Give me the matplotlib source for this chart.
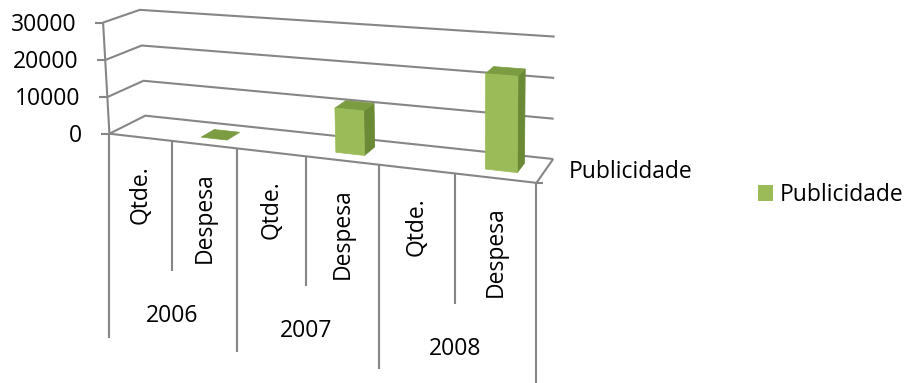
import numpy as np
import matplotlib
matplotlib.use('Agg')
import matplotlib.pyplot as plt
from matplotlib.patches import Polygon, Patch

plt.rcParams['font.family'] = ['Open Sans', 'DejaVu Sans']
plt.rcParams['font.size'] = 16.5

years = ['2006', '2007', '2008']
measures = ['Qtde.', 'Despesa']
series_name = 'Publicidade'
# one value per (year, measure); Qtde. is empty
publicidade = [np.nan, 0, np.nan, 11300, np.nan, 23000]
value_ticks = [0, 10000, 20000, 30000]

grid_color = '#868686'
front_color = '#9bbb59'
top_color = '#7c9c42'
side_color = '#6b8a35'

# chart box: (category, value / 10000, depth) and where it lands in pixels
frame_world = np.array([
    (0, 0, 0), (1, 0, 0), (2, 0, 0), (3, 0, 0), (4, 0, 0), (5, 0, 0), (6, 0, 0),
    (0, 0, 1), (6, 0, 1),
    (0, 1, 0), (0, 2, 0), (0, 3, 0),
    (0, 1, 1), (0, 2, 1), (0, 3, 1),
    (6, 1, 1), (6, 2, 1), (6, 3, 1),
], dtype=float)
frame_px = np.array([
    (110, 133), (172, 141.5), (237, 149.5), (306, 157), (378, 165), (455, 173.5), (537, 182),
    (145, 115.5), (554, 158),
    (107.5, 97), (105, 59.5), (103, 22),
    (143, 81), (142, 45.5), (140, 10),
    (553, 118.5), (554, 78.5), (555, 37),
], dtype=float)

PX_CENTER = np.array([454.0, 100.0])
PX_SCALE = 300.0


def fit_camera(world, px):
    # direct linear transform for a 3x4 perspective matrix
    uv = (px - PX_CENTER) / PX_SCALE
    rows = []
    for (X, Y, Z), (u, v) in zip(world, uv):
        p = [X, Y, Z, 1.0]
        rows.append(p + [0, 0, 0, 0] + [-u * q for q in p])
        rows.append([0, 0, 0, 0] + p + [-v * q for q in p])
    _, _, vt = np.linalg.svd(np.array(rows))
    return vt[-1].reshape(3, 4)


P = fit_camera(frame_world, frame_px)


def proj(c, v, d):
    h = P @ np.array([c, v, d, 1.0])
    return np.array([h[0] / h[2], h[1] / h[2]]) * PX_SCALE + PX_CENTER


def line(ax, pts, **kw):
    pts = np.array(pts)
    ax.plot(pts[:, 0], pts[:, 1], color=grid_color, lw=1.5,
            solid_capstyle='butt', zorder=1, **kw)


fig = plt.figure(figsize=(9.08, 3.83), dpi=100)
ax = fig.add_axes([0, 0, 1, 1])
ax.set_xlim(0, 908)
ax.set_ylim(383, 0)
ax.axis('off')

n_cat = len(years) * len(measures)
top_v = value_ticks[-1] / 10000

# walls and value axis
for t in value_ticks:
    v = t / 10000
    line(ax, [proj(0, v, 0), proj(0, v, 1), proj(n_cat, v, 1)])
    x, y = proj(0, v, 0)
    line(ax, [(x - 8, y), (x, y)])
    ax.text(x - 27, y + 2, str(t), ha='right', va='center')
line(ax, [proj(0, 0, 0), proj(0, top_v, 0)])

# floor edges
line(ax, [proj(0, 0, 0), proj(n_cat, 0, 0), proj(n_cat, 0, 1)])
x, y = proj(n_cat, 0, 0)
line(ax, [(x, y), (x + 7, y)])

# category panel below the floor
for k in range(n_cat + 1):
    x, y = proj(k, 0, 0)
    length = 204 if k % 2 == 0 else 130
    line(ax, [(x, y), (x, y + length)])

for i in range(n_cat):
    a = proj(i, 0, 0)
    b = proj(i + 1, 0, 0)
    m = (a + b) / 2
    ax.text(m[0], m[1] + 28, measures[i % 2], rotation=90, ha='center', va='top')

for j, yr in enumerate(years):
    x, y = proj(2 * j + 1, 0, 0)
    ax.text(x, y + 175, yr, ha='center', va='center')

# columns
for i, val in enumerate(publicidade):
    if np.isnan(val):
        continue
    h = val / 10000
    c0, c1 = i + 0.3, i + 0.7
    d0, d1 = 0.3, 0.7
    faces = []
    if h > 0:
        faces.append(([proj(c1, 0, d0), proj(c1, 0, d1), proj(c1, h, d1), proj(c1, h, d0)], side_color))
    faces.append(([proj(c0, h, d0), proj(c1, h, d0), proj(c1, h, d1), proj(c0, h, d1)], top_color))
    if h > 0:
        faces.append(([proj(c0, 0, d0), proj(c1, 0, d0), proj(c1, h, d0), proj(c0, h, d0)], front_color))
    for pts, col in faces:
        ax.add_patch(Polygon(pts, closed=True, facecolor=col, edgecolor=col, lw=0.5, zorder=3))

# series (depth) axis title
x, y = proj(n_cat, 0, 0.5)
ax.text(x + 24, y + 1, series_name, ha='left', va='center')

ax.legend(handles=[Patch(facecolor=front_color, label=series_name)],
          loc='center left', bbox_to_anchor=(758 / 908, 1 - 195 / 383),
          frameon=False, handlelength=0.65, handleheight=0.65,
          handletextpad=0.3, borderpad=0, borderaxespad=0)

fig.savefig('out.png', dpi=100, facecolor='white')
